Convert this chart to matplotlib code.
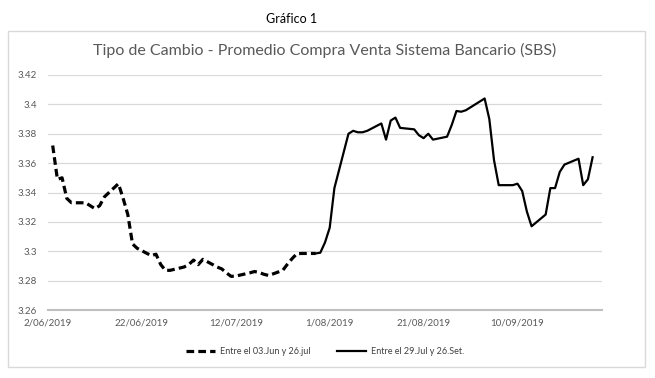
import numpy as np
import pandas as pd
import matplotlib
matplotlib.use('Agg')
import matplotlib.pyplot as plt
from matplotlib.patches import Rectangle

plt.rcParams['font.family'] = ['Lato', 'DejaVu Sans']

# Serie 1: entre el 03.Jun y 26.jul
dates_1 = ['06-03', '06-04', '06-05', '06-06', '06-07',
           '06-10', '06-11', '06-12', '06-13', '06-14',
           '06-17', '06-18', '06-19', '06-20', '06-21',
           '06-24', '06-25', '06-26', '06-27', '06-28',
           '07-01', '07-02', '07-03', '07-04', '07-05',
           '07-08', '07-09', '07-10', '07-11', '07-12',
           '07-15', '07-16', '07-17', '07-18', '07-19',
           '07-22', '07-23', '07-24', '07-25', '07-26', '07-29']
tc_1 = [3.372, 3.349, 3.350, 3.336, 3.333,
        3.333, 3.331, 3.329, 3.331, 3.337,
        3.346, 3.336, 3.325, 3.305, 3.302,
        3.297, 3.298, 3.291, 3.287, 3.287,
        3.2893, 3.291, 3.294, 3.2909, 3.2945,
        3.2893, 3.288, 3.2853, 3.2829, 3.2831,
        3.2853, 3.2862, 3.2855, 3.2843, 3.2835,
        3.2870, 3.2912, 3.295, 3.2983, 3.2985, 3.2985]

# Serie 2: entre el 29.Jul y 26.Set.
dates_2 = ['07-29', '07-30', '07-31', '08-01', '08-02',
           '08-05', '08-06', '08-07', '08-08', '08-09',
           '08-12', '08-13', '08-14', '08-15', '08-16',
           '08-19', '08-20', '08-21', '08-22', '08-23',
           '08-26', '08-27', '08-28', '08-29', '08-30',
           '09-02', '09-03', '09-04', '09-05', '09-06',
           '09-09', '09-10', '09-11', '09-12', '09-13',
           '09-16', '09-17', '09-18', '09-19', '09-20',
           '09-23', '09-24', '09-25', '09-26']
tc_2 = [3.2985, 3.299, 3.306, 3.316, 3.343,
        3.380, 3.382, 3.381, 3.381, 3.382,
        3.387, 3.376, 3.389, 3.391, 3.384,
        3.383, 3.379, 3.377, 3.380, 3.376,
        3.378, 3.386, 3.3955, 3.395, 3.396,
        3.402, 3.404, 3.390, 3.362, 3.345,
        3.345, 3.346, 3.341, 3.327, 3.317,
        3.325, 3.343, 3.343, 3.354, 3.359,
        3.363, 3.345, 3.349, 3.364]

labels = ['Entre el 03.Jun y 26.jul', 'Entre el 29.Jul y 26.Set.']
y_ticks = [3.26, 3.28, 3.30, 3.32, 3.34, 3.36, 3.38, 3.40, 3.42]
y_tick_labels = ['3.26', '3.28', '3.3', '3.32', '3.34', '3.36', '3.38', '3.4', '3.42']

x1 = pd.to_datetime(['2019-' + d for d in dates_1])
x2 = pd.to_datetime(['2019-' + d for d in dates_2])

fig = plt.figure(figsize=(6.55, 3.78), dpi=100)
ax = fig.add_axes([48 / 655, 1 - 310 / 378, 554 / 655, 235 / 378])

# chart border like excel
fig.patches.append(Rectangle((8 / 655, 1 - 367 / 378), 637 / 655, 336 / 378,
                             transform=fig.transFigure, fill=False,
                             edgecolor='#d9d9d9', lw=1))

ax.plot(x1, tc_1, color='black', lw=2.3, ls=(0, (2.4, 1.3)), label=labels[0],
        solid_joinstyle='round')
ax.plot(x2, tc_2, color='black', lw=1.6, label=labels[1], solid_joinstyle='round')

ax.set_ylim(3.26, 3.42)
ax.set_yticks(y_ticks)
ax.set_yticklabels(y_tick_labels)
ax.set_xlim(pd.Timestamp('2019-06-02'), pd.Timestamp('2019-09-28'))
xt = [pd.Timestamp('2019-06-02') + pd.Timedelta(days=20 * k) for k in range(6)]
ax.set_xticks(xt)
ax.set_xticklabels([f'{d.day}/{d.month:02d}/{d.year}' for d in xt])

ax.grid(axis='y', color='#d9d9d9', lw=0.9)
ax.set_axisbelow(True)
for s in ['top', 'right', 'left']:
    ax.spines[s].set_visible(False)
ax.spines['bottom'].set_color('#bfbfbf')
ax.spines['bottom'].set_linewidth(1.5)
ax.tick_params(axis='both', length=0, labelsize=7, labelcolor='#595959')
ax.tick_params(axis='y', pad=8)
ax.tick_params(axis='x', pad=6)

fig.text(292 / 655, 1 - 19 / 378, 'Gráfico 1', ha='center', va='center',
         fontsize=9, color='black')
fig.text(325 / 655, 1 - 50 / 378,
         'Tipo de Cambio - Promedio Compra Venta Sistema Bancario (SBS)',
         ha='center', va='center', fontsize=11.5, color='#595959')

fig.legend(loc='center', bbox_to_anchor=(325 / 655, 1 - 352 / 378), ncol=2,
           frameon=False, fontsize=6.5, handlelength=3.2, columnspacing=3,
           handletextpad=0.5, labelcolor='#404040')

fig.savefig('out.png', dpi=100)
